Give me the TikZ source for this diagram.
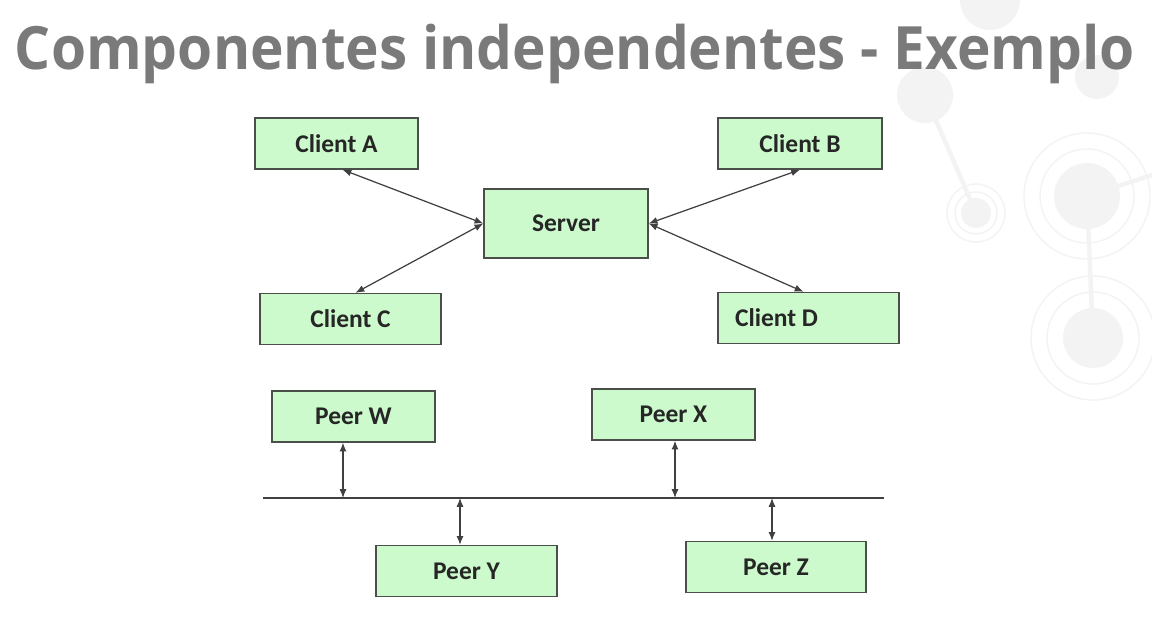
\documentclass[tikz,border=0pt]{standalone}
\usepackage{fontspec}
\setmainfont{Carlito}
\newfontfamily\titlefont{Open Sans}
\usetikzlibrary{arrows.meta}

\definecolor{boxgreen}{HTML}{CCFACC}
\definecolor{boxline}{HTML}{4A4F4A}
\definecolor{wireline}{HTML}{404040}
\definecolor{titlegray}{HTML}{7A7A7A}
\definecolor{decogray}{HTML}{F3F3F3}

\tikzset{
	hostbox/.style={draw=boxline, fill=boxgreen, line width=0.8pt,
		font=\fontsize{14.5}{16}\selectfont\bfseries, text=black!85,
		minimum height=1.02cm, inner sep=0pt},
	link/.style={draw=wireline, line width=0.7pt,
		{Latex[length=5pt,width=4pt]}-{Latex[length=5pt,width=4pt]}},
	deco/.style={fill=decogray, draw=none},
	decoring/.style={draw=decogray, line width=0.8pt}
}

\begin{document}
\begin{tikzpicture}[x=0.02cm, y=-0.02cm]
		\useasboundingbox[fill=white] (0,0) rectangle (1152,617);

		% faint background ornament
		\draw[decogray, line width=2.5pt] (925,95) -- (976,213);
		\draw[decogray, line width=2.5pt] (1087,196) -- (1093,338);
		\draw[decogray, line width=2.5pt] (1087,196) -- (1152,175);
		\fill[deco] (990,0) circle (30);
		\fill[deco] (925,95) circle (28);
		\fill[deco] (1097,77) circle (22);
		\fill[deco] (976,213) circle (15);
		\draw[decoring] (976,213) circle (21) (976,213) circle (29);
		\fill[deco] (1087,196) circle (33);
		\draw[decoring] (1087,196) circle (47) (1087,196) circle (63);
		\fill[deco] (1093,338) circle (30);
		\draw[decoring] (1093,338) circle (46) (1093,338) circle (62);

		% title
		\node[font=\titlefont\fontsize{34}{40}\selectfont\bfseries, text=titlegray]
			(title) at (575,54) {\scalebox{0.95}[1]{Componentes independentes - Exemplo}};

		% client / server
		\node[hostbox, minimum width=3.26cm] (clientA) at (336.5,143.5) {Client A};
		\node[hostbox, minimum width=3.28cm] (clientB) at (800,143.5) {Client B};
		\node[hostbox, minimum width=3.28cm, minimum height=1.38cm] (server) at (566,223.5) {Server};
		\node[hostbox, minimum width=3.62cm] (clientC) at (350.5,319) {Client C};
		\node[hostbox, minimum width=3.62cm] (clientD) at (808.5,318) {\makebox[2.94cm][l]{Client D}};

		\draw[link] ([xshift=0.12cm]clientA.south) -- (server.west);
		\draw[link] (clientB.south) -- (server.east);
		\draw[link] ([xshift=0.1cm]clientC.north) -- (server.west);
		\draw[link] ([xshift=-0.1cm]clientD.north) -- (server.east);

		% peer to peer
		\node[hostbox, minimum width=3.26cm] (peerW) at (353.5,416.5) {Peer W};
		\node[hostbox, minimum width=3.26cm] (peerX) at (673.5,414.5) {Peer X};
		\node[hostbox, minimum width=3.62cm] (peerY) at (466.5,571) {Peer Y};
		\node[hostbox, minimum width=3.6cm] (peerZ) at (776,567) {Peer Z};

		\coordinate (busL) at (263,498);
		\coordinate (busR) at (884,498);
		\draw[wireline, line width=0.8pt] (busL) -- (busR);

		\coordinate (tapW) at (343,498);
		\coordinate (tapX) at (675,498);
		\coordinate (tapY) at (460,498);
		\coordinate (tapZ) at (772,498);
		\draw[link] (tapW |- peerW.south) -- (tapW);
		\draw[link] (tapX |- peerX.south) -- (tapX);
		\draw[link] (tapY) -- (tapY |- peerY.north);
		\draw[link] (tapZ) -- (tapZ |- peerZ.north);
	\end{tikzpicture}
\end{document}
